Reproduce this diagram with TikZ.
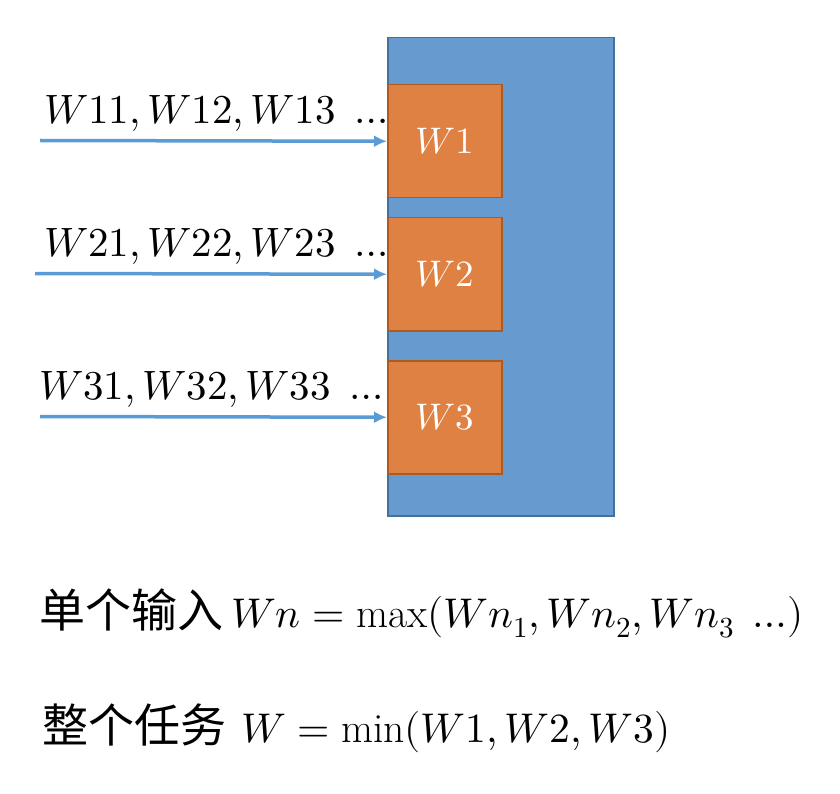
\documentclass[tikz,border=0pt]{standalone}
\usepackage{fontspec}
\usepackage{unicode-math}
\setmathfont{Latin Modern Math}
\newfontfamily\cjk{Noto Sans CJK SC}
\newcommand\cjktext{\fontsize{46}{50}\selectfont\cjk}
\usetikzlibrary{arrows.meta}
\definecolor{boxblue}{RGB}{103,154,207}
\definecolor{boxblueedge}{RGB}{65,113,156}
\definecolor{boxorange}{RGB}{223,129,67}
\definecolor{boxorangeedge}{RGB}{174,90,33}
\definecolor{arrowblue}{RGB}{91,155,213}
\begin{document}
\begin{tikzpicture}[x=1pt,y=-1pt,
  container/.style={draw=boxblueedge,fill=boxblue,line width=1.5pt},
  worker/.style={draw=boxorangeedge,fill=boxorange,line width=1.5pt,minimum width=114pt,minimum height=113pt,inner sep=0pt,text=white,font=\fontsize{37}{40}\selectfont},
  inlabel/.style={anchor=base west,inner sep=0pt,font=\fontsize{41}{48}\selectfont},
  formula/.style={anchor=base west,inner sep=0pt,font=\fontsize{41.5}{48}\selectfont},
  feed/.style={draw=arrowblue,line width=3.5pt,-{Latex[length=13pt,width=12pt]}}]
\useasboundingbox (0,0) rectangle (840,794);
\node[container,minimum width=226pt,minimum height=478pt,inner sep=0pt,anchor=north west] (outer) at (387,37) {};
\node[worker,anchor=north west] (w1) at (387,84) {$W1$};
\node[worker,anchor=north west] (w2) at (387,217) {$W2$};
\node[worker,anchor=north west] (w3) at (387,360) {$W3$};
\node[inlabel] (l1) at (44,124) {$W11,W12,W13\;\ldots$};
\node[inlabel] (l2) at (44,257) {$W21,W22,W23\;\ldots$};
\node[inlabel] (l3) at (39,399) {$W31,W32,W33\;\ldots$};
\coordinate (s1) at (40,140.5);
\coordinate (s2) at (35,273.5);
\coordinate (s3) at (40,416.5);
\draw[feed] (s1) -- (w1.west);
\draw[feed] (s2) -- (w2.west);
\draw[feed] (s3) -- (w3.west);
\node[formula] (f1) at (39,627) {{\cjktext 单个输入}\hspace{8pt}$Wn=\max(Wn_1,Wn_2,Wn_3\;\ldots)$};
\node[formula] (f2) at (42,742) {{\cjktext 整个任务}\hspace{15pt}$W=\min(W1,W2,W3)$};
\end{tikzpicture}
\end{document}
